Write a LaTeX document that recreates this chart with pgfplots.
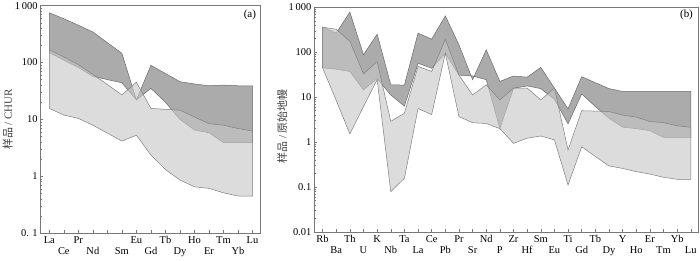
\documentclass[border=0pt]{standalone}
\usepackage{fontspec}
\setmainfont{Liberation Serif}
\newfontfamily\cjk{Noto Sans CJK SC}
\usepackage{pgfplots}
\pgfplotsset{compat=1.18}
\definecolor{axisgray}{gray}{0.47}
\definecolor{darkband}{gray}{0.67}
\definecolor{lightband}{gray}{0.78}
\definecolor{darkedge}{gray}{0.42}
\definecolor{lightedge}{gray}{0.50}
\tikzset{
  dband/.style={fill=darkband, draw=darkedge, line width=0.5pt},
  lband/.style={fill=lightband, fill opacity=0.62, draw=lightedge, line width=0.5pt, draw opacity=1},
}
\begin{document}
\begin{tikzpicture}
\useasboundingbox (0,0) rectangle (700bp,261bp);
% ---------------- panel (a)
\begin{axis}[ymode=log, scale only axis,
  axis line style={draw=axisgray, line width=1pt},
  tick align=inside, xtick pos=bottom, ytick pos=left,
  major tick length=3bp, minor tick length=1.8bp,
  tick style={draw=axisgray, line width=0.5pt},
  tick label style={font=\fontsize{10.5}{11}\selectfont, text=black},
  xticklabel style={text height=1.6ex, text depth=0.3ex, inner sep=1pt, yshift=-2bp},
  yticklabel style={inner sep=1pt, xshift=-1.5bp},
  extra x tick style={xticklabel style={yshift=-11bp}},
  clip=false,
  at={(40.3bp,28bp)}, anchor=south west,
  width=220.2bp, height=227.3bp,
  xmin=-0.62, xmax=14.55, ymin=0.1, ymax=1000,
  ytick={0.1,1,10,100,1000},
  yticklabels={0. 1,1,10,100,1\,000},
  minor ytick={0.2,0.3,0.4,0.5,0.6,0.7,0.8,0.9,2,3,4,5,6,7,8,9,20,30,40,50,60,70,80,90,200,300,400,500,600,700,800,900},
  xtick={0,2,6,8,10,12,14},
  xticklabels={La,Pr,Eu,Tb,Ho,Tm,Lu},
  extra x ticks={1,3,4,5,7,9,11,13},
  extra x tick labels={Ce,Nd,,Sm,Gd,Dy,Er,Yb},
  ylabel={{\cjk 样品} / CHUR},
  ylabel style={at={(axis description cs:-0.148,0.5)}, anchor=center, font=\fontsize{11}{12}\selectfont, text=black!75},
]
\addplot[dband] coordinates {
 (0,750) (1,590) (2,453) (3,345) (5,145) (6,22) (7,89) (8,64) (9,46) (10,42) (11,39) (12,40) (13,39) (14,39)
 (14,3.9) (13,3.9) (12,3.9) (11,5.8) (10,6.5) (9,10) (8,20) (7,35) (6,22) (5,44) (3,57) (2,82) (1,110) (0,150)
} -- cycle;
\addplot[lband] coordinates {
 (0,169) (1,125) (2,92) (3,62) (5,27) (6,45) (7,15.6) (8,15) (9,14.5) (10,11) (11,8.4) (12,7.9) (13,6.9) (14,6.2)
 (14,0.447) (13,0.447) (12,0.51) (11,0.61) (10,0.65) (9,0.855) (8,1.31) (7,2.35) (6,5.27) (5,4.15) (3,7.9) (2,10.4) (1,11.9) (0,15.6)
} -- cycle;
\node[font=\fontsize{11}{12}\selectfont] at (rel axis cs:0.952,0.958) {(a)};
\end{axis}
% ---------------- panel (b)
\begin{axis}[ymode=log, scale only axis,
  axis line style={draw=axisgray, line width=1pt},
  tick align=inside, xtick pos=bottom, ytick pos=left,
  major tick length=3bp, minor tick length=1.8bp,
  tick style={draw=axisgray, line width=0.5pt},
  tick label style={font=\fontsize{10.5}{11}\selectfont, text=black},
  xticklabel style={text height=1.6ex, text depth=0.3ex, inner sep=1pt, yshift=-2bp},
  yticklabel style={inner sep=1pt, xshift=-1.5bp},
  extra x tick style={xticklabel style={yshift=-11bp}},
  clip=false,
  at={(314bp,29bp)}, anchor=south west,
  width=384bp, height=224.7bp,
  xmin=-0.63, xmax=27.53, ymin=0.01, ymax=1000,
  ytick={0.01,0.1,1,10,100,1000},
  yticklabels={0.01,0.1,1,10,100,1\,000},
  minor ytick={0.02,0.03,0.04,0.05,0.06,0.07,0.08,0.09,0.2,0.3,0.4,0.5,0.6,0.7,0.8,0.9,2,3,4,5,6,7,8,9,20,30,40,50,60,70,80,90,200,300,400,500,600,700,800,900},
  xtick={0,2,4,6,8,10,12,14,16,18,20,22,24,26},
  xticklabels={Rb,Th,K,Ta,Ce,Pr,Nd,Zr,Sm,Ti,Tb,Y,Er,Yb},
  extra x ticks={1,3,5,7,9,11,13,15,17,19,21,23,25,27},
  extra x tick labels={Ba,U,Nb,La,Pb,Sr,P,Hf,Eu,Gd,Dy,Ho,Tm,Lu},
  ylabel={{\cjk 样品} / {\cjk 原始地幔}},
  ylabel style={at={(axis description cs:-0.083,0.47)}, anchor=center, font=\fontsize{11}{12}\selectfont, text=black!75},
]
\addplot[dband] coordinates {
 (0,362) (1,267) (2,782) (3,87.5) (4,253) (5,18.8) (6,18.6) (7,266) (8,195) (9,643) (10,146) (11,24.5) (12,113) (13,22.4)
 (14,29.6) (15,27.9) (16,46) (17,15.9) (18,5.5) (19,28.6) (20,21) (21,15.5) (22,13.4) (23,13.5) (24,13.5) (25,13.4) (26,13.4) (27,13.4)
 (27,1.28) (26,1.28) (25,1.28) (24,1.8) (23,2.0) (22,2.15) (21,3.4) (20,6.2) (19,11.8) (18,2.55) (17,9) (16,15.5) (15,17.8) (14,15.8)
 (13,2.0) (12,24.5) (11,29.6) (10,31) (9,95) (8,44) (7,57) (6,6.3) (5,11.2) (4,26) (3,14.5) (2,37.4) (1,42) (0,45)
} -- cycle;
\addplot[lband] coordinates {
 (0,362) (1,325) (2,175) (3,33) (4,62) (5,2.9) (6,4.4) (7,48.5) (8,37.4) (9,193) (10,31) (11,11.2) (12,18.8) (13,8.7)
 (14,15.8) (15,16) (16,8.7) (17,15.9) (18,0.67) (19,5.0) (20,4.9) (21,4.8) (22,4.0) (23,3.6) (24,2.87) (25,2.72) (26,2.3) (27,2.15)
 (27,0.149) (26,0.149) (25,0.165) (24,0.195) (23,0.22) (22,0.26) (21,0.295) (20,0.48) (19,0.79) (18,0.111) (17,1.12) (16,1.37) (15,1.22) (14,0.94)
 (13,2.0) (12,2.6) (11,2.7) (10,3.7) (9,95) (8,4.1) (7,5.6) (6,0.157) (5,0.079) (4,24.5) (3,6.2) (2,1.52) (1,8.5) (0,45)
} -- cycle;
\node[font=\fontsize{11}{12}\selectfont] at (rel axis cs:0.97,0.966) {(b)};
\end{axis}
\end{tikzpicture}
\end{document}
